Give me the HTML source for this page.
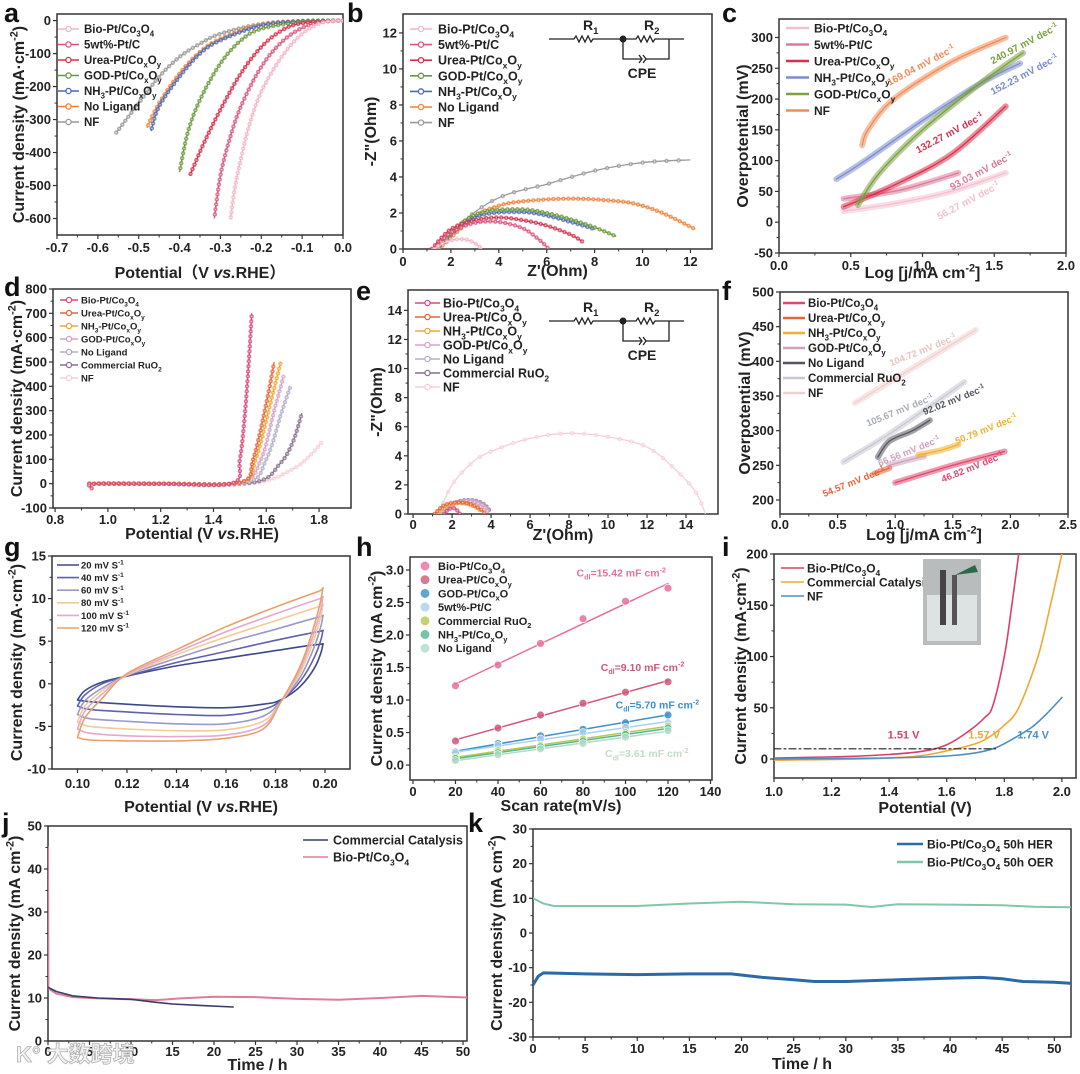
<!DOCTYPE html>
<html><head><meta charset="utf-8"><title>Electrocatalysis figure</title>
<style>
html,body{margin:0;padding:0;background:#fff;}
svg{display:block;font-family:"Liberation Sans","Noto Sans CJK SC",sans-serif;font-weight:bold;}
</style></head>
<body>
<svg id="fig" width="1080" height="1074" viewBox="0 0 1080 1074" xmlns="http://www.w3.org/2000/svg">
<rect x="0" y="0" width="1080" height="1074" fill="#fff"/>
<defs id="defs"></defs>
</svg>
<script>
// ---------- data: panel a (HER LSV) ----------
const a_bio=[[0,0],[-0.05,-6],[-0.1,-40],[-0.15,-110],[-0.2,-215],[-0.23,-320],[-0.25,-420],[-0.265,-510],[-0.275,-600]];
const a_pt=[[0,0],[-0.05,-3],[-0.1,-22],[-0.15,-65],[-0.2,-140],[-0.25,-260],[-0.28,-370],[-0.3,-470],[-0.315,-600]];
const a_urea=[[0,0],[-0.1,-8],[-0.15,-30],[-0.2,-80],[-0.25,-160],[-0.3,-270],[-0.34,-370],[-0.375,-470]];
const a_god=[[0,0],[-0.1,-4],[-0.2,-25],[-0.25,-60],[-0.3,-130],[-0.35,-240],[-0.38,-340],[-0.4,-460]];
const a_nh3=[[0,0],[-0.1,-2],[-0.2,-15],[-0.3,-60],[-0.35,-100],[-0.4,-170],[-0.45,-260],[-0.47,-335]];
const a_nolig=[[0,0],[-0.1,-2],[-0.2,-12],[-0.3,-55],[-0.35,-95],[-0.4,-160],[-0.45,-250],[-0.48,-325]];
const a_nf=[[0,0],[-0.1,-1],[-0.2,-10],[-0.3,-40],[-0.35,-70],[-0.4,-110],[-0.45,-170],[-0.5,-250],[-0.555,-340]];
const a_labels=['Bio-Pt/Co_{3}O_{4}','5wt%-Pt/C','Urea-Pt/Co_{x}O_{y}','GOD-Pt/Co_{x}O_{y}','NH_{3}-Pt/Co_{x}O_{y}','No Ligand','NF'];
const a_xticks=[-0.7,-0.6,-0.5,-0.4,-0.3,-0.2,-0.1,0.0];
const a_yticks=[0,-100,-200,-300,-400,-500,-600];
// ---------- panel b (HER Nyquist) ----------
const b_bio=[[1.3,0],[1.8,0.4],[2.4,0.55],[2.9,0.4],[3.3,0]];
const b_pt=[[1.3,0],[2,0.9],[3,1.45],[4,1.5],[5,1.15],[5.7,0.5],[6.05,0.05]];
const b_urea=[[1.2,0],[2,1.1],[3,1.6],[4,1.75],[5,1.6],[6,1.3],[7,0.8],[7.5,0.4]];
const b_god=[[1.4,0],[2.5,1.4],[3.5,1.95],[5,2.05],[6,1.85],[7,1.5],[8,1.1]];
const b_nh3=[[1.4,0],[2.5,1.5],[3.5,2.1],[5,2.2],[6,2.0],[7,1.65],[8,1.2],[8.9,0.7]];
const b_nolig=[[1.5,0],[3,1.8],[4,2.4],[5,2.65],[7,2.8],[9,2.65],[10,2.4],[11,1.9],[12.2,1.1]];
const b_nf=[[1.5,0],[2.5,1.5],[3.5,2.5],[4.5,3.1],[6,3.6],[8,4.35],[10,4.8],[12,4.95]];
const b_ticks=[0,2,4,6,8,10,12];
// ---------- panel c (HER Tafel) ----------
const c_bio=[[0.45,18],[0.8,30],[1.2,50],[1.58,80]];
const c_pt=[[0.45,38],[0.8,50],[1.0,62],[1.25,80]];
const c_urea=[[0.45,25],[0.8,60],[1.2,110],[1.58,188]];
const c_nh3=[[0.4,70],[0.6,100],[1.0,165],[1.4,225],[1.68,258]];
const c_god=[[0.55,28],[0.7,80],[1.0,150],[1.4,225],[1.7,275]];
const c_nf=[[0.58,125],[0.62,150],[0.8,200],[1.2,260],[1.58,300]];
const c_slopes=['56.27','93.03','132.27','152.23','240.97','169.04'];
const c_slopePos=[[1.33,30],[1.42,78],[1.2,140],[1.72,235],[1.72,285],[1.0,250]];
const c_labels=['Bio-Pt/Co_{3}O_{4}','5wt%-Pt/C','Urea-Pt/Co_{x}O_{y}','NH_{3}-Pt/Co_{x}O_{y}','GOD-Pt/Co_{x}O_{y}','NF'];
const c_xticks=[0,0.5,1.0,1.5,2.0];
const c_yticks=[-50,0,50,100,150,200,250,300];
// ---------- panel d (OER LSV) ----------
const d_bio=[[0.93,0],[0.94,-20],[0.95,0],[1.2,0],[1.47,2],[1.5,100],[1.52,300],[1.535,520],[1.545,700]];
const d_urea=[[0.93,0],[1.2,0],[1.5,5],[1.55,100],[1.6,330],[1.63,500]];
const d_nh3=[[0.93,0],[1.2,0],[1.5,5],[1.56,100],[1.62,350],[1.655,500]];
const d_god=[[0.93,0],[1.2,0],[1.5,3],[1.58,100],[1.63,300],[1.665,440]];
const d_nolig=[[0.93,0],[1.2,0],[1.52,3],[1.6,100],[1.66,300],[1.69,395]];
const d_ruo2=[[0.93,0],[1.2,0],[1.55,5],[1.65,80],[1.7,170],[1.735,290]];
const d_nf=[[0.93,0],[1.2,0],[1.55,2],[1.7,60],[1.77,120],[1.81,170]];
const d_labels=['Bio-Pt/Co_{3}O_{4}','Urea-Pt/Co_{x}O_{y}','NH_{3}-Pt/Co_{x}O_{y}','GOD-Pt/Co_{x}O_{y}','No Ligand','Commercial RuO_{2}','NF'];
const d_xticks=[0.8,1.0,1.2,1.4,1.6,1.8];
const d_yticks=[-100,0,100,200,300,400,500,600,700,800];
// ---------- panel e (OER Nyquist) ----------
const e_bio=[[1.6,0],[1.8,0.3],[2.1,0.4],[2.3,0.2],[2.4,0]];
const e_urea=[[1.1,0],[1.6,0.6],[2.3,0.8],[3,0.65],[3.5,0.3],[3.7,0]];
const e_nh3=[[1.2,0],[1.7,0.55],[2.4,0.75],[3.0,0.6],[3.5,0.2]];
const e_god=[[1.3,0],[2,0.7],[2.8,0.9],[3.5,0.65],[3.9,0.1]];
const e_nolig=[[1.4,0],[2.2,0.75],[3,0.9],[3.6,0.6],[3.9,0.2]];
const e_ruo2=[[1.4,0],[2.2,0.8],[3,0.95],[3.6,0.7],[3.95,0.2]];
const e_nf=[[1.3,0],[2,2],[3,3.5],[4,4.3],[6,5.2],[8,5.55],[10,5.3],[12,4.6],[13.5,3.0],[14.5,1.5],[15,0]];
const e_ticks=[0,2,4,6,8,10,12,14];
// ---------- panel f (OER Tafel) ----------
const f_nf=[[0.65,340],[1.0,375],[1.4,415],[1.7,445]];
const f_ruo2=[[0.55,255],[0.9,290],[1.3,335],[1.6,370]];
const f_nolig=[[0.85,262],[0.95,285],[1.15,300],[1.3,315]];
const f_god=[[0.95,250],[1.1,257],[1.25,263]];
const f_nh3=[[1.2,265],[1.4,272],[1.55,280]];
const f_urea=[[0.82,238],[0.95,246]];
const f_bio=[[1.0,225],[1.5,250],[1.95,270]];
const f_slopes=['104.72','105.67','92.02','66.56','50.79','54.57','46.82'];
const f_slopePos=[[1.25,412],[1.05,325],[1.52,340],[1.13,266],[1.8,298],[0.65,222],[1.68,243]];
const f_labels=['Bio-Pt/Co_{3}O_{4}','Urea-Pt/Co_{x}O_{y}','NH_{3}-Pt/Co_{x}O_{y}','GOD-Pt/Co_{x}O_{y}','No Ligand','Commercial RuO_{2}','NF'];
const f_xticks=[0,0.5,1.0,1.5,2.0,2.5];
const f_yticks=[200,250,300,350,400,450,500];
// ---------- panel g (CV) ----------
const g_20=[[0.1,-1.9],[0.105,-2.1],[0.12,-2.4],[0.14,-2.7],[0.16,-2.8],[0.175,-2.4],[0.182,-1.9],[0.19,-0.3],[0.196,2.0],[0.199,4.4],[0.197,4.6],[0.18,3.9],[0.16,3.0],[0.14,2.1],[0.12,0.9],[0.11,0.2],[0.103,-0.8],[0.1,-1.9]];
const g_40=[[0.1,-2.6],[0.105,-3.0],[0.12,-3.3],[0.14,-3.6],[0.16,-3.7],[0.175,-3.0],[0.182,-2.0],[0.19,0.3],[0.196,3.3],[0.199,6.0],[0.197,6.1],[0.18,5.1],[0.16,3.8],[0.14,2.5],[0.12,0.9],[0.11,0.0],[0.103,-1.3],[0.1,-2.6]];
const g_60=[[0.1,-3.6],[0.105,-4.1],[0.12,-4.4],[0.14,-4.7],[0.16,-4.7],[0.175,-3.8],[0.182,-2.1],[0.19,0.8],[0.196,4.6],[0.199,7.7],[0.197,7.8],[0.18,6.4],[0.16,4.8],[0.14,3.0],[0.12,1.0],[0.11,-0.5],[0.103,-2.0],[0.1,-3.6]];
const g_80=[[0.1,-4.5],[0.105,-5.0],[0.12,-5.3],[0.14,-5.5],[0.16,-5.4],[0.175,-4.4],[0.182,-2.2],[0.19,1.3],[0.196,5.6],[0.199,9.0],[0.197,9.0],[0.18,7.4],[0.16,5.5],[0.14,3.4],[0.12,1.0],[0.11,-0.8],[0.103,-2.6],[0.1,-4.5]];
const g_100=[[0.1,-5.3],[0.105,-5.8],[0.12,-6.1],[0.14,-6.2],[0.16,-6.0],[0.175,-4.9],[0.182,-2.2],[0.19,1.7],[0.196,6.4],[0.199,9.9],[0.197,9.9],[0.18,8.2],[0.16,6.1],[0.14,3.7],[0.12,1.1],[0.11,-1.2],[0.103,-3.2],[0.1,-5.3]];
const g_120=[[0.1,-6.3],[0.105,-6.6],[0.12,-6.7],[0.14,-6.7],[0.16,-6.4],[0.175,-5.3],[0.182,-2.2],[0.19,2.1],[0.196,7.2],[0.199,11.0],[0.197,10.8],[0.18,9.0],[0.16,6.7],[0.14,4.0],[0.12,1.2],[0.11,-1.7],[0.103,-4.0],[0.1,-6.3]];
const g_labels=['20 mV S^{-1}','40 mV S^{-1}','60 mV S^{-1}','80 mV S^{-1}','100 mV S^{-1}','120 mV S^{-1}'];
const g_xticks=[0.10,0.12,0.14,0.16,0.18,0.20];
const g_yticks=[-10,-5,0,5,10,15];
// ---------- panel h (Cdl) ----------
const h_rates=[20,40,60,80,100,120];
const h_bio=[1.22,1.54,1.87,2.25,2.52,2.72];
const h_urea=[0.37,0.57,0.77,0.95,1.12,1.28];
const h_god=[0.2,0.33,0.45,0.55,0.65,0.77];
const h_pt=[0.18,0.3,0.4,0.5,0.58,0.65];
const h_ruo2=[0.12,0.22,0.3,0.4,0.5,0.6];
const h_nh3=[0.1,0.19,0.28,0.37,0.47,0.57];
const h_nolig=[0.07,0.16,0.25,0.33,0.43,0.53];
const h_labels=['Bio-Pt/Co_{3}O_{4}','Urea-Pt/Co_{x}O_{y}','GOD-Pt/Co_{x}O','5wt%-Pt/C','Commercial RuO_{2}','NH_{3}-Pt/Co_{x}O_{y}','No Ligand'];
const h_cdl=['C_{dl}=15.42 mF cm^{-2}','C_{dl}=9.10 mF cm^{-2}','C_{dl}=5.70 mF cm^{-2}','C_{dl}=3.61 mF cm^{-2}'];
const h_cdlPos=[[98,2.9],[108,1.45],[115,0.87],[110,0.12]];
const h_xticks=[0,20,40,60,80,100,120,140];
const h_yticks=[0,0.5,1.0,1.5,2.0,2.5,3.0];
// ---------- panel i (full cell LSV) ----------
const i_bio=[[1,1],[1.3,3],[1.5,7],[1.6,14],[1.68,28],[1.73,40],[1.76,52],[1.8,100],[1.826,150],[1.85,200]];
const i_comm=[[1,-1],[1.3,0],[1.5,3],[1.6,8],[1.7,15],[1.75,22],[1.8,33],[1.85,50],[1.917,100],[1.96,150],[2.0,200]];
const i_nf=[[1,0],[1.4,1],[1.6,3],[1.7,6],[1.76,10],[1.8,15],[1.85,23],[1.9,32],[1.95,45],[2.0,60]];
const i_ref=[[1.0,10],[1.77,10]];
const i_volt=['1.51 V','1.57 V','1.74 V'];
const i_voltPos=[[1.45,20],[1.73,20],[1.9,20]];
const i_labels=['Bio-Pt/Co_{3}O_{4}','Commercial Catalysis','NF'];
const i_xticks=[1.0,1.2,1.4,1.6,1.8,2.0];
const i_yticks=[0,50,100,150,200];
// ---------- panel j (stability) ----------
const j_comm=[[0,12.5],[1,11.5],[3,10.5],[6,10],[10,9.7],[13,9],[15,8.6],[18,8.3],[22.3,7.9]];
const j_bio=[[0,45],[0.05,12.2],[1,11],[3,10.2],[6,9.9],[10,9.7],[13,9.5],[16,9.9],[20,10.3],[25,10.2],[30,9.8],[35,9.6],[40,10],[45,10.5],[51,10.1]];
const j_labels=['Commercial Catalysis','Bio-Pt/Co_{3}O_{4}'];
const j_xticks=[0,5,10,15,20,25,30,35,40,45,50];
const j_yticks=[0,10,20,30,40,50];
// ---------- panel k (50 h stability) ----------
const k_her=[[0,-15],[0.5,-12.5],[1,-11.5],[5,-11.8],[10,-12],[15,-11.8],[19,-11.8],[22,-12.8],[25,-13.5],[27,-14],[30,-14],[35,-13.5],[40,-13],[43,-12.8],[45,-13.2],[47,-14],[50,-14.2],[51.5,-14.5]];
const k_oer=[[0,10],[1,8.5],[2,7.8],[5,7.8],[10,7.8],[15,8.5],[20,9],[25,8.3],[30,8.2],[32.5,7.5],[35,8.3],[40,8.2],[45,8.0],[48,7.6],[51.5,7.4]];
const k_labels=['Bio-Pt/Co_{3}O_{4} 50h HER','Bio-Pt/Co_{3}O_{4} 50h OER'];
const k_xticks=[0,5,10,15,20,25,30,35,40,45,50];
const k_yticks=[-30,-20,-10,0,10,20,30];

// ================= drawing =================
const NS='http://www.w3.org/2000/svg';
const svg=document.getElementById('fig');
const defs=document.getElementById('defs');
function E(tag,a,p){const e=document.createElementNS(NS,tag);for(const k in a)e.setAttribute(k,a[k]);(p||svg).appendChild(e);return e;}
function rich(p,x,y,str,a){
  const t=E('text',Object.assign({x:x,y:y},a),p);
  const fs=parseFloat(a['font-size']||13);let cur=0;
  const parts=str.split(/([_^*]\{[^}]*\})/);
  for(const s of parts){ if(!s)continue;
    let off=0,txt=s,small=false,ital=false;
    if(s[1]==='{'&&s[0]==='_'){off=fs*0.3;txt=s.slice(2,-1);small=true;}
    else if(s[1]==='{'&&s[0]==='^'){off=-fs*0.4;txt=s.slice(2,-1);small=true;}
    else if(s[1]==='{'&&s[0]==='*'){txt=s.slice(2,-1);ital=true;}
    const ts=E('tspan',{dy:(off-cur).toFixed(2)},t);
    if(small)ts.setAttribute('font-size',(fs*0.68).toFixed(1));
    if(ital)ts.setAttribute('font-style','italic');
    ts.textContent=txt;cur=off;}
  return t;}
function fmt(v,d){return v.toFixed(d);}
let clipN=0;
function axes(c){
  const g=E('g',{});
  
  
  const sx=v=>c.L+(v-c.x0)/(c.x1-c.x0)*(c.R-c.L);
  const sy=v=>c.B-(v-c.y0)/(c.y1-c.y0)*(c.B-c.T);
  const id='clip'+(clipN++);
  const cp=E('clipPath',{id:id},defs);E('rect',{x:c.L,y:c.T,width:c.R-c.L,height:c.B-c.T},cp);
  const xt=c.xt,yt=c.yt,tky=c.tky||17;
  for(let i=0;i<xt.length;i++){
    const X=sx(xt[i]);
    const tk=E('line',{x1:X,x2:X,y1:c.B,y2:c.B+4,stroke:'#333','stroke-width':1.2},g);
    
    
    if(i<xt.length-1){const m=sx((xt[i]+xt[i+1])/2);E('line',{x1:m,x2:m,y1:c.B,y2:c.B+2.5,stroke:'#333','stroke-width':1},g);}
    const lb=E('text',{x:X,y:c.B+tky,'text-anchor':'middle','font-size':c.fs||13,fill:'#222'},g);
    
    
    lb.textContent=fmt(xt[i],c.xd);
  }
  for(let i=0;i<yt.length;i++){
    const Y=sy(yt[i]);
    const tk=E('line',{x1:c.L-4,x2:c.L,y1:Y,y2:Y,stroke:'#333','stroke-width':1.2},g);
    
    
    if(i<yt.length-1){const m=sy((yt[i]+yt[i+1])/2);E('line',{x1:c.L-2.5,x2:c.L,y1:m,y2:m,stroke:'#333','stroke-width':1},g);}
    const lb=E('text',{x:c.L-6,y:Y+4.5,'text-anchor':'end','font-size':c.fs||13,fill:'#222'},g);
    
    
    lb.textContent=fmt(yt[i],c.yd);
  }
  const fr=E('rect',{x:c.L,y:c.T,width:c.R-c.L,height:c.B-c.T,fill:'none',stroke:'#333','stroke-width':1.5},g);
  
  
  const xtl=rich(g,(c.L+c.R)/2,c.xtY,c.xtitle,{'text-anchor':'middle','font-size':c.tfs||16,fill:'#222'});
  
  
  const yc=(c.T+c.B)/2;
  const ytl=rich(g,c.ytX,yc,c.ytitle,{'text-anchor':'middle','font-size':c.tfs||16,fill:'#222',transform:`rotate(-90 ${c.ytX} ${yc})`});
  
  
  const pl=E('text',{x:c.lx,y:c.ly,'font-size':27,fill:'#111'},g);
  
  
  pl.textContent=c.letter;
  const plot=E('g',{'clip-path':`url(#${id})`},g);
  
  
  return {sx:sx,sy:sy,g:g,plot:plot};
}
function pathD(ax,P,smooth){
  const Q=P.map(p=>[ax.sx(p[0]),ax.sy(p[1])]);
  let d=`M${Q[0][0].toFixed(1)},${Q[0][1].toFixed(1)}`;
  for(let i=0;i<Q.length-1;i++){
    if(!smooth){d+=`L${Q[i+1][0].toFixed(1)},${Q[i+1][1].toFixed(1)}`;continue;}
    const p0=Q[i-1]||Q[i],p1=Q[i],p2=Q[i+1],p3=Q[i+2]||Q[i+1];
    const c1=[p1[0]+(p2[0]-p0[0])/6,p1[1]+(p2[1]-p0[1])/6],c2=[p2[0]-(p3[0]-p1[0])/6,p2[1]-(p3[1]-p1[1])/6];
    d+=`C${c1[0].toFixed(1)},${c1[1].toFixed(1)} ${c2[0].toFixed(1)},${c2[1].toFixed(1)} ${p2[0].toFixed(1)},${p2[1].toFixed(1)}`;
  }
  return d;}
function beadLine(ax,P,color,name,gap){
  const d=pathD(ax,P,true);
  const g=E('g',{},ax.plot);
  
  
  E('path',{d:d,fill:'none',stroke:color,'stroke-width':1.3},g);
  E('path',{d:d,fill:'none',stroke:color,'stroke-width':4.5,'stroke-linecap':'round','stroke-dasharray':`0 ${gap||5}`,opacity:0.75},g);
  E('path',{d:d,fill:'none',stroke:'#fff','stroke-width':1.6,'stroke-linecap':'round','stroke-dasharray':`0 ${gap||5}`,opacity:0.6},g);
  return g;}
function line(ax,P,color,w,name,smooth,op){
  const p=E('path',{d:pathD(ax,P,smooth),fill:'none',stroke:color,'stroke-width':w,'stroke-linejoin':'round','stroke-linecap':'round',opacity:op||1},ax.plot);
  
  
  return p;}
function legend(ax,x1,x2,xt,y0,dy,labels,colors,fs,type,name){
  const g=E('g',{},ax.g);
  
  
  for(let i=0;i<labels.length;i++){
    const y=y0+i*dy;
    const it=E('g',{},g);
    
    
    if(type!=='dot')E('line',{x1:x1,x2:x2,y1:y,y2:y,stroke:colors[i],'stroke-width':type==='thick'?2.5:1.6},it);
    if(type==='bead'||type==='dot')E('circle',{cx:(x1+x2)/2,cy:y,r:type==='dot'?3.8:2.6,fill:type==='dot'?colors[i]:'#fff',stroke:colors[i],'stroke-width':1.3,opacity:type==='dot'?0.8:1},it);
    rich(it,xt,y+fs*0.36,labels[i],{'font-size':fs,fill:'#222'});
  }}
function circuit(ax,x,y,name){
  const g=E('g',{transform:`translate(${x},${y})`,stroke:'#222','stroke-width':1.3,fill:'none'},ax.g);
  
  
  E('path',{d:'M0,13 H25 l2,-3 l3,6 l3,-6 l3,6 l3,-6 l3,6 l2,-3 H74 H87 l2,-3 l3,6 l3,-6 l3,6 l3,-6 l3,6 l2,-3 H120 H135 M74,13 V33 H92 M96,33 H120 V13'},g);
  E('path',{d:'M90,29 l3,4 l-3,4 M94,29 l3,4 l-3,4'},g);
  E('circle',{cx:74,cy:13,r:2.8,fill:'#222'},g);
  rich(g,34,4,'R_{1}',{'font-size':14,fill:'#222',stroke:'none'});
  rich(g,95,4,'R_{2}',{'font-size':14,fill:'#222',stroke:'none'});
  const t3=E('text',{x:93,y:52,'font-size':14,fill:'#222',stroke:'none','text-anchor':'middle'},g);t3.textContent='CPE';
}

// ---- panel a ----
const A=axes({name:'chart-a-her-lsv',L:57,R:343,T:14,B:235,x0:-0.7,x1:0,y0:-650,y1:20,xt:a_xticks,yt:a_yticks,xd:1,yd:0,xtitle:'Potential（V *{vs.}RHE）',xtY:278,ytitle:'Current density (mA·cm^{-2})',ytX:24,letter:'a',lx:4,ly:22});
const aCol=['#f2b6c6','#d8567c','#d6304c','#6a9a3a','#4c6ab4','#f0823c','#9a9a9a'];
[a_nf,a_nolig,a_nh3,a_god,a_urea,a_pt,a_bio].forEach((s,k)=>{const i=6-k;beadLine(A,s,aCol[i],'series-'+['bio','pt-c','urea','god','nh3','no-ligand','nf'][i],5);});
legend(A,58,79,84,29,15.5,a_labels,aCol,11.5,'bead','legend-a');

// ---- panel b ----
const B=axes({name:'chart-b-her-nyquist',L:403,R:712,T:14,B:249,x0:0,x1:12.9,y0:0,y1:13.05,xt:b_ticks,yt:b_ticks,xd:0,yd:0,xtitle:"Z'(Ohm)",xtY:276,ytitle:'-Z"(Ohm)',ytX:376,letter:'b',lx:347,ly:22});
[b_nf,b_nolig,b_god,b_nh3,b_urea,b_pt,b_bio].forEach((s,k)=>{const i=6-k;beadLine(B,s,aCol[i],'series-'+['bio','pt-c','urea','god','nh3','no-ligand','nf'][i],i===6?12:5);});
legend(B,410,432,438,29,15.6,a_labels,aCol,12.5,'bead','legend-b');
circuit(B,549,26,'equivalent-circuit-b');

// ---- panel c ----
const C=axes({name:'chart-c-her-tafel',L:779,R:1066,T:19,B:253,x0:0,x1:2,y0:-50,y1:330,xt:c_xticks,yt:c_yticks,xd:1,yd:0,xtitle:'Log [j/mA cm^{-2}]',xtY:278,ytitle:'Overpotential (mV)',ytX:748,letter:'c',lx:722,ly:22});
const cCol=['#f4c0ce','#e07898','#d8304c','#7c8cd0','#7aa040','#f08c58'];
[c_bio,c_pt,c_urea,c_nh3,c_god,c_nf].forEach((s,i)=>{line(C,s,cCol[i],6,'series-band-'+i,true,0.55);line(C,s,cCol[i],1.3,'series-fit-'+i,true,1);});
c_slopes.forEach((v,i)=>{const x=C.sx(c_slopePos[i][0]),y=C.sy(c_slopePos[i][1]);const t=rich(C.g,x,y,v+' mV dec^{-1}',{'font-size':10,fill:cCol[i],'text-anchor':'middle',transform:`rotate(-28 ${x} ${y})`});});
legend(C,786,809,814,28,16.5,c_labels,cCol,12,'thick','legend-c');

// ---- panel d ----
const D=axes({name:'chart-d-oer-lsv',L:53,R:351,T:289,B:508,x0:0.792,x1:1.921,y0:-100,y1:800,xt:d_xticks,yt:d_yticks,xd:1,yd:0,tky:16,xtitle:'Potential (V *{vs.}RHE)',xtY:539,ytitle:'Current density (mA·cm^{-2})',ytX:22,letter:'d',lx:4,ly:296});
const dCol=['#d94a7a','#e8643a','#f0a830','#d8a0c8','#b0b0c8','#8a7090','#f5d0d5'];
[d_nf,d_ruo2,d_nolig,d_god,d_nh3,d_urea,d_bio].forEach((s,k)=>{const i=6-k;beadLine(D,s,dCol[i],'series-'+['bio','urea','nh3','god','no-ligand','ruo2','nf'][i],5);});
legend(D,60,78,81,300,13,d_labels,dCol,9.5,'bead','legend-d');

// ---- panel e ----
const Ee=axes({name:'chart-e-oer-nyquist',L:408,R:718,T:290,B:514,x0:-0.26,x1:15.64,y0:0,y1:15.4,xt:e_ticks,yt:e_ticks,xd:0,yd:0,tky:15,xtitle:"Z'(Ohm)",xtY:540,ytitle:'-Z"(Ohm)',ytX:382,letter:'e',lx:356,ly:300});
[e_nf,e_ruo2,e_nolig,e_god,e_nh3,e_urea,e_bio].forEach((s,k)=>{const i=6-k;beadLine(Ee,s,dCol[i],'series-'+['bio','urea','nh3','god','no-ligand','ruo2','nf'][i],i===6?12:4);});
legend(Ee,415,440,443,303,14,d_labels,dCol,12.5,'bead','legend-e');
circuit(Ee,549,308,'equivalent-circuit-e');

// ---- panel f ----
const F=axes({name:'chart-f-oer-tafel',L:780,R:1068,T:292,B:514,x0:0,x1:2.5,y0:179.8,y1:500,xt:f_xticks,yt:f_yticks,xd:1,yd:0,tky:15,xtitle:'Log [j/mA cm^{-2}]',xtY:540,ytitle:'Overpotential (mV)',ytX:750,letter:'f',lx:722,ly:300});
const fCol=['#f2cfcf','#c8c8d4','#555560','#d0a0c0','#f0b030','#e8643a','#e04870'];
[f_nf,f_ruo2,f_nolig,f_god,f_nh3,f_urea,f_bio].forEach((s,i)=>{line(F,s,fCol[i],6,'series-band-'+i,true,0.55);line(F,s,fCol[i],1.3,'series-fit-'+i,true,1);});
f_slopes.forEach((v,i)=>{const x=F.sx(f_slopePos[i][0]),y=F.sy(f_slopePos[i][1]);const t=rich(F.g,x,y,v+' mV dec^{-1}',{'font-size':9.5,fill:fCol[i]==='#f2cfcf'?'#e8c4c0':(fCol[i]==='#c8c8d4'?'#aaaab8':fCol[i]),'text-anchor':'middle',transform:`rotate(-22 ${x} ${y})`});});
legend(F,783,805,808,303,15,f_labels,['#e04870','#e8643a','#f0b030','#d0a0c0','#555560','#c8c8d4','#f2cfcf'],11.5,'thick','legend-f');

// ---- panel g ----
const G=axes({name:'chart-g-cv',L:52,R:350,T:556,B:769,x0:0.0897,x1:0.2101,y0:-10,y1:15,xt:g_xticks,yt:g_yticks,xd:2,yd:0,tky:19,xtitle:'Potential (V *{vs.}RHE)',xtY:812,ytitle:'Current density (mA·cm^{-2})',ytX:22,letter:'g',lx:4,ly:556});
const gCol=['#3a4a8a','#6060b0','#9a98cc','#f2cc94','#e4aacc','#e8a06c'];
[g_20,g_40,g_60,g_80,g_100,g_120].forEach((s,i)=>line(G,s,gCol[i],1.6,'cv-loop-'+['20','40','60','80','100','120'][i],true));
legend(G,57,79,81,565,12.6,g_labels,gCol,9.5,'line','legend-g');

// ---- panel h ----
const Hh=axes({name:'chart-h-cdl',L:410,R:712,T:557,B:780,x0:-1.4,x1:140.7,y0:-0.23,y1:3.2,xt:h_xticks,yt:h_yticks,xd:0,yd:1,tky:16,xtitle:'Scan rate(mV/s)',xtY:811,ytitle:'Current density (mA cm^{-2})',ytX:382,letter:'h',lx:356,ly:556});
const hCol=['#e87098','#d05878','#3a90c8','#a8d0f0','#b8c850','#50b890','#b0dcc8'];
[h_bio,h_urea,h_god,h_pt,h_ruo2,h_nh3,h_nolig].forEach((ys,i)=>{
  const n=h_rates.length;let mx=0,my=0;for(let k=0;k<n;k++){mx+=h_rates[k]/n;my+=ys[k]/n;}
  let sxy=0,sxx=0;for(let k=0;k<n;k++){sxy+=(h_rates[k]-mx)*(ys[k]-my);sxx+=(h_rates[k]-mx)**2;}
  const m=sxy/sxx,b0=my-m*mx;
  const x0=h_rates[0],x1=h_rates[n-1];
  line(Hh,[[x0,b0+m*x0],[x1,b0+m*x1]],hCol[i],1.5,'fit-line-'+i,false);
  for(let k=0;k<n;k++){const c=E('circle',{cx:Hh.sx(h_rates[k]),cy:Hh.sy(ys[k]),r:4,fill:hCol[i],stroke:'#fff','stroke-width':0.8,opacity:0.85},Hh.plot);
    
    }
});
const hcCol=['#e87098','#d05878','#3a90c8','#c0dcc8'];
h_cdl.forEach((v,i)=>{const t=rich(Hh.g,Hh.sx(h_cdlPos[i][0]),Hh.sy(h_cdlPos[i][1]),v,{'font-size':10.5,fill:hcCol[i],'text-anchor':'middle'});});
legend(Hh,420,430,438,566,13.7,h_labels,hCol,11,'dot','legend-h');

// ---- panel i ----
const I=axes({name:'chart-i-full-cell',L:774,R:1076,T:554,B:778,x0:1,x1:2.049,y0:-18.5,y1:200,xt:i_xticks,yt:i_yticks,xd:1,yd:0,tky:18,xtitle:'Potential (V)',xtY:813,ytitle:'Current density (mA·cm^{-2})',ytX:746,letter:'i',lx:722,ly:556});
const iCol=['#d8406c','#f0a830','#4a90c0'];
[i_bio,i_comm,i_nf].forEach((s,i)=>line(I,s,iCol[i],1.6,'series-'+['bio','commercial','nf'][i],true));
const ref=line(I,i_ref,'#222',1.2,'reference-line-10ma',false);ref.setAttribute('stroke-dasharray','7 3 2 3');
i_volt.forEach((v,i)=>{const t=E('text',{x:I.sx(i_voltPos[i][0]),y:I.sy(i_voltPos[i][1]),'font-size':11,fill:iCol[i],'text-anchor':'middle'},I.g);t.textContent=v;});
legend(I,781,804,807,568,14,i_labels,iCol,12,'line','legend-i');
const ins=E('g',{},I.g);


E('rect',{x:923,y:559,width:58,height:86,fill:'#b8bcbc'},ins);
E('rect',{x:927,y:595,width:50,height:46,fill:'#dde2e2'},ins);
E('rect',{x:940,y:570,width:6,height:55,fill:'#444'},ins);
E('rect',{x:952,y:575,width:5,height:50,fill:'#555'},ins);
E('path',{d:'M955,575 L975,565 L978,572 Z',fill:'#2a6a4a'},ins);

// ---- panel j ----
const J=axes({name:'chart-j-stability',L:48,R:467,T:826,B:1041,x0:0,x1:50.48,y0:0,y1:50,xt:j_xticks,yt:j_yticks,xd:0,yd:0,tky:15,xtitle:'Time / h',xtY:1070,ytitle:'Current density (mA cm^{-2})',ytX:20,letter:'j',lx:2,ly:832});
line(J,j_bio,'#e07c98',2,'series-bio',false);
line(J,j_comm,'#3a3a6a',1.6,'series-commercial',false);
legend(J,303,328,333,840,17,j_labels,['#3a3a6a','#e07c98'],12.5,'line','legend-j');

// ---- panel k ----
const K=axes({name:'chart-k-stability-50h',L:533,R:1071,T:829,B:1037,x0:0,x1:51.6,y0:-30,y1:30,xt:k_xticks,yt:k_yticks,xd:0,yd:0,tky:16,xtitle:'Time / h',xtY:1069,ytitle:'Current density (mA cm^{-2})',ytX:502,letter:'k',lx:468,ly:832});
line(K,k_oer,'#80c8a8',2,'series-oer',false);
line(K,k_her,'#2a6aa8',3,'series-her',false);
legend(K,897,923,927,844,18,k_labels,['#2a6aa8','#80c8a8'],12,'thick','legend-k');

// watermark
const wm=E('text',{x:16,y:1062,'font-size':22,fill:'#f4f4f4',stroke:'#b0b0b0','stroke-width':0.8});


wm.textContent='K° 大数跨境';
</script>
</body></html>
